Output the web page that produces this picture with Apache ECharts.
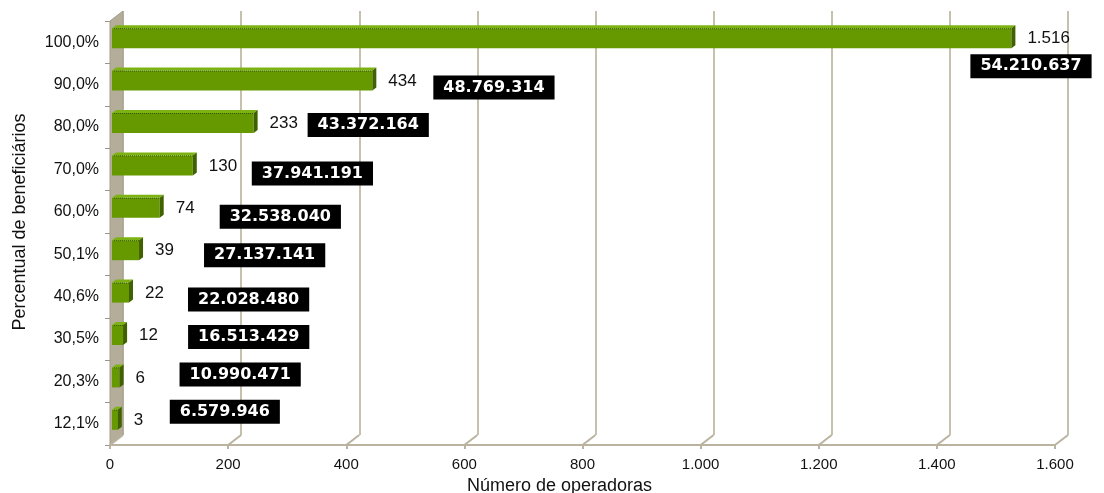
<!DOCTYPE html>
<html><head><meta charset="utf-8">
<script src="https://cdn.jsdelivr.net/npm/echarts@6/dist/echarts.min.js"></script>
<style>html,body{margin:0;padding:0;background:#fff}#c{width:1104px;height:493px}</style>
</head><body><div id="c"></div>
<script>
// ---- data ----
const categories = ['100,0%','90,0%','80,0%','70,0%','60,0%','50,1%','40,6%','30,5%','20,3%','12,1%'];
const operadoras = [1516, 434, 233, 130, 74, 39, 22, 12, 6, 3];
const beneficiarios = [54210637, 48769314, 43372164, 37941191, 32538040, 27137141, 22028480, 16513429, 10990471, 6579946];
const xTicks = [0, 200, 400, 600, 800, 1000, 1200, 1400, 1600];
// layout only: offsets of the black beneficiary labels relative to bar end / row centre
const boxNudge = [[-35,24],[67,3],[60,-2],[65,4],[66,5],[71,1],[65,3],[71,-2],[66,-7],[58,-12]];

function fmt(n){ return String(n).replace(/\B(?=(\d{3})+(?!\d))/g, '.'); }
const FONT = '"Liberation Sans", Arial, sans-serif';
const DEPTH = [13, -10];
const AXIS_COL = '#b9b39f';

const chart = echarts.init(document.getElementById('c'), null, {renderer:'canvas'});

const option = {
  animation: false,
  backgroundColor: '#ffffff',
  grid: [
    {left:110, right:49, top:21, bottom:48, outerBoundsMode:'none', containLabel:false},
    {left:123, right:36, top:11, bottom:58, outerBoundsMode:'none', containLabel:false}
  ],
  xAxis: [
    {gridIndex:0, type:'value', min:0, max:1600, interval:200,
     axisLine:{show:true, lineStyle:{color:AXIS_COL, width:2}},
     axisTick:{show:true, length:4, lineStyle:{color:AXIS_COL, width:2}},
     splitLine:{show:false},
     axisLabel:{formatter:v=>fmt(v), color:'#111', fontSize:15, fontFamily:FONT, margin:12},
     name:'Número de operadoras', nameLocation:'middle', nameGap:29,
     nameTextStyle:{color:'#111', fontSize:18, fontFamily:FONT, padding:[0,46,0,0]}},
    {gridIndex:1, type:'value', min:0, max:1600, interval:200,
     axisLine:{show:false}, axisTick:{show:false}, axisLabel:{show:false},
     splitLine:{show:true, lineStyle:{color:'#c6c1ac', width:2}}}
  ],
  yAxis: [
    {gridIndex:0, type:'category', inverse:true, data:categories,
     axisLine:{show:false},
     axisTick:{show:true, length:5, lineStyle:{color:'#9a9584'}},
     axisLabel:{color:'#111', fontSize:16, fontFamily:FONT, margin:11}},
    {gridIndex:1, type:'value', show:false, min:0, max:1}
  ],
  graphic: [
    {type:'text', x:20, y:222, rotation:Math.PI/2,
     style:{text:'Percentual de beneficiários', font:'18px ' + FONT, fill:'#111',
            textAlign:'center', textVerticalAlign:'middle'}}
  ],
  series: [
    { // wall + slanted floor connectors
      type:'custom', xAxisIndex:0, yAxisIndex:0, z:1, silent:true,
      data: xTicks.map(v => [v, 0]),
      encode:{x:0, y:1},
      renderItem(params, api){
        const cs = params.coordSys;
        const bottom = cs.y + cs.height;
        const x = api.coord([api.value(0), 0])[0];
        const children = [{
          type:'line', shape:{x1:x, y1:bottom, x2:x+DEPTH[0], y2:bottom+DEPTH[1]},
          style:{stroke:AXIS_COL, lineWidth:2}
        }];
        if (params.dataIndex === 0) {
          children.unshift({
            type:'polygon',
            shape:{points:[[cs.x, cs.y],[cs.x+DEPTH[0], cs.y+DEPTH[1]],
                           [cs.x+DEPTH[0], bottom+DEPTH[1]],[cs.x, bottom]]},
            style:{fill:'#b3ad9a', stroke:'#a39d89', lineWidth:1}
          });
        }
        return {type:'group', children};
      }
    },
    { // 3D-look bars with labels
      type:'custom', xAxisIndex:0, yAxisIndex:0, z:3, silent:true,
      data: operadoras.map((v, i) => [v, i]),
      encode:{x:0, y:1},
      renderItem(params, api){
        const i = api.value(1), v = api.value(0);
        const end = api.coord([v, i]);
        const start = api.coord([0, i]);
        const c = end[1];
        const x0 = start[0] + 2, x1 = end[0] + 6;
        const fTop = c - 14, fBot = c + 6;
        const d = [4, -3];
        const nudge = boxNudge[params.dataIndex];
        return {type:'group', children:[
          {type:'rect', shape:{x:x0, y:fTop, width:x1-x0, height:fBot-fTop},
           style:{fill:'#669900'}},
          {type:'polygon', shape:{points:[[x0,fTop],[x0+d[0],fTop+d[1]],[x1+d[0],fTop+d[1]],[x1,fTop]]},
           style:{fill:'#7cb312'}},
          {type:'line', shape:{x1:x0+2, y1:fTop+0.5, x2:x1, y2:fTop+0.5},
           style:{stroke:'#3a5c00', lineWidth:1, lineDash:[1,1]}},
          {type:'polygon', shape:{points:[[x1,fTop],[x1+d[0],fTop+d[1]],[x1+d[0],fBot+d[1]],[x1,fBot]]},
           style:{fill:'#3f6100'}},
          {type:'text', style:{text:fmt(operadoras[params.dataIndex]), x:x1+d[0]+12, y:c-3.5,
            align:'left', verticalAlign:'middle', fill:'#111', font:'17px ' + FONT}},
          {type:'text', z2:10, style:{text:fmt(beneficiarios[params.dataIndex]),
            x:end[0]+nudge[0], y:c+nudge[1], align:'left', verticalAlign:'middle',
            fill:'#ffffff', font:'bold 16px "DejaVu Sans", sans-serif',
            backgroundColor:'#000000', padding:[4,10,4,10]}}
        ]};
      }
    }
  ]
};
chart.setOption(option);
</script>
</body></html>
